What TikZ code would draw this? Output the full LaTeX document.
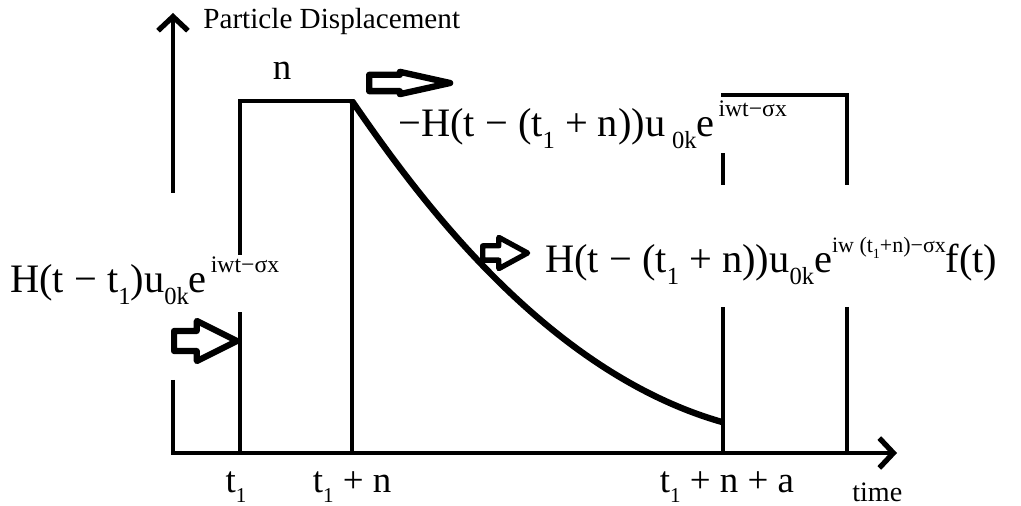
\documentclass[tikz,border=0pt]{standalone}
\usepackage{fontspec}
\setmainfont{Liberation Serif}
\usetikzlibrary{shapes.arrows,arrows.meta}
\newcommand{\lo}[2][14]{\raisebox{-0.28em}{\fontsize{#1}{#1}\selectfont #2}}
\newcommand{\hi}[2][13.5]{\raisebox{0.5em}{\fontsize{#1}{#1}\selectfont #2}}

\begin{document}
\begin{tikzpicture}[
    x=0.02cm, y=-0.02cm,
    axis/.style={line width=2.3pt, -{Straight Barb[length=8pt,width=17pt,line width=3pt]}},
    edge/.style={line width=2.3pt},
    decay/.style={line width=3.6pt},
    hollow/.style={single arrow, draw, fill=white, line join=round, inner xsep=0pt, single arrow head indent=0pt, anchor=tail},
    formula/.style={inner sep=0pt, anchor=base west, font=\fontsize{23}{26}\selectfont},
    tick/.style={inner sep=0pt, anchor=base, font=\fontsize{21}{24}\selectfont}
]
\useasboundingbox (0,0) rectangle (1021,506);

% Axes
\draw[axis] (173,380) -- (173,453) -- (897,453);
\draw[axis] (173,193) -- (173,13);
\node[inner sep=0pt, anchor=base west, font=\fontsize{16.6}{18}\selectfont] (ylabel) at (203,29) {Particle Displacement};
\node[inner sep=0pt, anchor=base west, font=\fontsize{16}{18}\selectfont] (xlabel) at (852,501) {time};

% First pulse
\draw[edge] (240,453) -- (240,312);
\draw[edge] (240,255) -- (240,101) -- (352,101) -- (352,453);
\node[tick] (width) at (282,80) {n};

% Second pulse
\draw[edge] (723,453) -- (723,307);
\draw[edge] (723,185) -- (723,153);
\draw[edge] (721,95) -- (847,95) -- (847,185);
\draw[edge] (847,307) -- (847,453);

% Decay
\draw[decay] (352,101) .. controls (410,185) and (540,370) .. (722,422);

% Tick labels
\node[tick] (t1) at (236,492) {t\lo[12]{1}};
\node[tick] (t1n) at (352,492) {t\lo[12]{1} + n};
\node[tick] (t1na) at (727,492) {t\lo[12]{1} + n + a};

% Formulas
\node[formula] (inwave) at (10,293) {H(t − t\lo{1})u\lo{0k}e\hi{\,iwt−σx}};
\node[formula] (cutwave) at (398,137) {−H(t − (t\lo{1} + n))u\,\lo{0k}e\hi{\,iwt−σx}};
\node[formula] (tailwave) at (545,273) {H(t − (t\lo{1} + n))u\lo{0k}e\hi[12.5]{iw (t\lo[8]{1}+n)−σx}f(t)};

% Hollow arrows
\node[hollow, line width=3.5pt, minimum height=1.26cm, inner ysep=0.14cm, single arrow head extend=0.2cm, single arrow tip angle=53] (pushA) at (171,341) {};
\node[hollow, line width=3.6pt, minimum height=1.62cm, inner ysep=0.1cm, single arrow head extend=0.06cm, single arrow tip angle=25] (pushB) at (366,83) {};
\node[hollow, line width=3pt, minimum height=0.9cm, inner ysep=0.09cm, single arrow head extend=0.17cm, single arrow tip angle=57] (pushC) at (480,253) {};
\end{tikzpicture}
\end{document}
